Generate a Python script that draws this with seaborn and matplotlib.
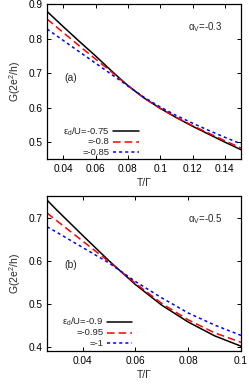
import matplotlib
matplotlib.use("Agg")
import matplotlib.pyplot as plt
import numpy as np
import pandas as pd
import seaborn as sns

# panel (a): alpha_V = -0.3
t_a = [0.03, 0.04, 0.05, 0.06, 0.07, 0.08, 0.09, 0.10, 0.11, 0.12, 0.13, 0.14, 0.15]
g_a_075 = [0.879, 0.835, 0.792, 0.750, 0.706, 0.664, 0.628, 0.598, 0.571, 0.546, 0.523, 0.500, 0.478]
g_a_080 = [0.857, 0.818, 0.779, 0.741, 0.703, 0.664, 0.628, 0.598, 0.572, 0.548, 0.526, 0.504, 0.483]
g_a_085 = [0.828, 0.795, 0.762, 0.729, 0.696, 0.663, 0.630, 0.602, 0.577, 0.555, 0.534, 0.514, 0.495]
labels_a = ["ε$_{\\rm d}$/U=-0.75", "=-0.8", "=-0.85"]

# panel (b): alpha_V = -0.5
t_b = [0.0265, 0.03, 0.04, 0.05, 0.06, 0.07, 0.08, 0.09, 0.10]
g_b_090 = [0.741, 0.719, 0.659, 0.600, 0.545, 0.497, 0.458, 0.426, 0.402]
g_b_095 = [0.711, 0.694, 0.646, 0.598, 0.548, 0.501, 0.463, 0.433, 0.411]
g_b_100 = [0.679, 0.667, 0.631, 0.595, 0.552, 0.514, 0.479, 0.451, 0.427]
labels_b = ["ε$_{\\rm d}$/U=-0.9", "=-0.95", "=-1"]

COLORS = ["#000000", "#ff0000", "#0000ff"]
DASHES = ["", (5, 2.6), (2, 2)]

sns.set_theme(style="ticks")
plt.rcParams["font.family"] = ["Liberation Sans", "DejaVu Sans"]
plt.rcParams["mathtext.fontset"] = "custom"
plt.rcParams["mathtext.rm"] = "Liberation Sans"
plt.rcParams["mathtext.it"] = "Liberation Sans:italic"
plt.rcParams.update({
    "xtick.direction": "in", "ytick.direction": "in",
    "xtick.top": True, "ytick.right": True,
    "xtick.major.size": 3, "ytick.major.size": 3,
    "xtick.major.width": 0.7, "ytick.major.width": 0.7,
    "axes.linewidth": 0.9, "axes.edgecolor": "black",
    "xtick.color": "black", "ytick.color": "black",
    "font.size": 7.5,
})


def draw_panel(ax, t, series, labels, xlim, ylim, xticks, yticks, tag, alpha, leg):
    df = pd.concat([pd.DataFrame({"T": t, "G": g, "curve": lab}) for g, lab in zip(series, labels)])
    sns.lineplot(data=df, x="T", y="G", hue="curve", style="curve",
                 palette=dict(zip(labels, COLORS)), dashes=dict(zip(labels, DASHES)),
                 linewidth=1.1, legend=False, ax=ax)
    ax.set_xlim(*xlim)
    ax.set_ylim(*ylim)
    ax.set_xticks(xticks)
    ax.set_xticklabels([f"{v:g}" for v in xticks], fontsize=7.3)
    ax.set_yticks(yticks)
    ax.set_yticklabels([f"{v:g}" for v in yticks], fontsize=7.3)
    ax.tick_params(pad=3)
    ax.set_xlabel("T/Γ", fontsize=7.5, labelpad=3)
    ax.set_ylabel("G(2e$^2$/h)", fontsize=7.5, labelpad=4)
    ax.text(0.12, tag[1], tag[0], transform=ax.transAxes, ha="center", va="center", fontsize=7.5)
    ax.text(0.815, 0.855, alpha, transform=ax.transAxes, ha="center", va="center", fontsize=7)
    # gnuplot-style key: label right-aligned, sample to the right
    tx, x0, x1, rows = leg
    for lab, c, d, yy in zip(labels, COLORS, DASHES, rows):
        ax.text(tx, yy, lab, transform=ax.transAxes, ha="right", va="center", fontsize=6.8)
        ln, = ax.plot([x0, x1], [yy, yy], transform=ax.transAxes, color=c, lw=1.1)
        if d:
            ln.set_dashes(d)


fig = plt.figure(figsize=(2.49, 3.84), dpi=100)
ax1 = fig.add_axes([0.189, 0.585, 0.779, 0.404])
ax2 = fig.add_axes([0.189, 0.085, 0.779, 0.404])

draw_panel(ax1, t_a, [g_a_075, g_a_080, g_a_085], labels_a,
           (0.03, 0.15), (0.45, 0.9), [0.04, 0.06, 0.08, 0.1, 0.12, 0.14],
           [0.5, 0.6, 0.7, 0.8, 0.9], ("(a)", 0.523), "α$_{\\rm V}$=-0.3",
           (0.322, 0.342, 0.476, [0.180, 0.113, 0.046]))
draw_panel(ax2, t_b, [g_b_090, g_b_095, g_b_100], labels_b,
           (0.0265, 0.1), (0.39, 0.75), [0.04, 0.06, 0.08, 0.1],
           [0.4, 0.5, 0.6, 0.7], ("(b)", 0.555), "α$_{\\rm V}$=-0.5",
           (0.29, 0.308, 0.437, [0.189, 0.121, 0.053]))

fig.savefig("out.png", dpi=100)
